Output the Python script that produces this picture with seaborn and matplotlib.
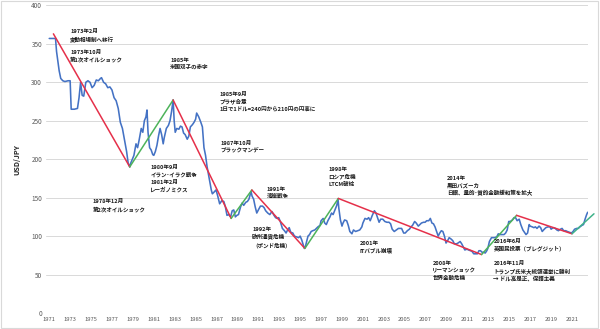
import matplotlib
matplotlib.use("Agg")
import matplotlib.pyplot as plt
import seaborn as sns
import pandas as pd
from matplotlib.patches import Rectangle

# ---------------- data ----------------
years = [1971.0, 1971.3, 1971.6, 1971.7, 1971.8, 1971.95, 1972.1, 1972.3, 1972.5, 1972.8,
         1973.0, 1973.1, 1973.4, 1973.7, 1973.85, 1974.0, 1974.15, 1974.3, 1974.5, 1974.7,
         1974.9, 1975.1, 1975.3, 1975.5, 1975.7, 1975.9, 1976.0, 1976.2, 1976.4, 1976.6,
         1976.8, 1977.0, 1977.2, 1977.4, 1977.6, 1977.8, 1978.0, 1978.2, 1978.4, 1978.55,
         1978.7, 1978.8, 1978.95, 1979.1, 1979.3, 1979.45, 1979.6, 1979.8, 1979.95, 1980.1,
         1980.25, 1980.35, 1980.45, 1980.6, 1980.75, 1980.9, 1981.0, 1981.15, 1981.3, 1981.45,
         1981.6, 1981.75, 1981.9, 1982.0, 1982.2, 1982.4, 1982.55, 1982.7, 1982.85, 1982.95,
         1983.05, 1983.2, 1983.4, 1983.55, 1983.7, 1983.85, 1984.0, 1984.2, 1984.35, 1984.5,
         1984.7, 1984.85, 1985.0, 1985.1, 1985.3, 1985.5, 1985.65, 1985.8, 1985.95, 1986.1,
         1986.3, 1986.5, 1986.6, 1986.75, 1986.95, 1987.1, 1987.3, 1987.5, 1987.7, 1987.85,
         1988.0, 1988.15, 1988.35, 1988.5, 1988.65, 1988.8, 1988.95, 1989.1, 1989.3, 1989.45,
         1989.6, 1989.8, 1989.95, 1990.1, 1990.3, 1990.4, 1990.55, 1990.7, 1990.85, 1991.0,
         1991.2, 1991.4, 1991.55, 1991.7, 1991.9, 1992.1, 1992.3, 1992.5, 1992.65, 1992.8,
         1992.95, 1993.1, 1993.3, 1993.5, 1993.65, 1993.8, 1993.95, 1994.1, 1994.3, 1994.45,
         1994.65, 1994.85, 1995.0, 1995.15, 1995.4, 1995.5, 1995.6, 1995.75, 1995.9, 1996.05,
         1996.2, 1996.4, 1996.55, 1996.7, 1996.9, 1997.0, 1997.2, 1997.35, 1997.5, 1997.65,
         1997.85, 1998.0, 1998.15, 1998.35, 1998.5, 1998.62, 1998.7, 1998.85, 1999.0, 1999.1,
         1999.25, 1999.45, 1999.6, 1999.75, 1999.95, 2000.1, 2000.3, 2000.5, 2000.7, 2000.9,
         2001.0, 2001.2, 2001.4, 2001.55, 2001.7, 2001.9, 2002.1, 2002.25, 2002.4, 2002.55,
         2002.7, 2002.9, 2003.1, 2003.3, 2003.5, 2003.65, 2003.8, 2004.0, 2004.2, 2004.4,
         2004.55, 2004.7, 2004.9, 2005.05, 2005.25, 2005.45, 2005.6, 2005.75, 2005.95, 2006.1,
         2006.3, 2006.45, 2006.6, 2006.8, 2006.95, 2007.1, 2007.3, 2007.45, 2007.6, 2007.75,
         2007.9, 2008.05, 2008.2, 2008.35, 2008.5, 2008.65, 2008.8, 2008.95, 2009.1, 2009.25,
         2009.45, 2009.6, 2009.75, 2009.95, 2010.1, 2010.3, 2010.45, 2010.6, 2010.75, 2010.95,
         2011.1, 2011.3, 2011.45, 2011.6, 2011.8, 2011.95, 2012.1, 2012.25, 2012.4, 2012.55,
         2012.7, 2012.85, 2012.95, 2013.1, 2013.3, 2013.45, 2013.6, 2013.8, 2013.95, 2014.1,
         2014.3, 2014.5, 2014.65, 2014.8, 2014.95, 2015.1, 2015.3, 2015.45, 2015.6, 2015.75,
         2015.95, 2016.1, 2016.3, 2016.45, 2016.6, 2016.75, 2016.9, 2017.0, 2017.2, 2017.35,
         2017.5, 2017.65, 2017.85, 2018.0, 2018.15, 2018.35, 2018.5, 2018.7, 2018.9, 2019.0,
         2019.2, 2019.4, 2019.55, 2019.7, 2019.9, 2020.05, 2020.2, 2020.4, 2020.55, 2020.75,
         2020.95, 2021.1, 2021.25, 2021.45, 2021.6, 2021.75, 2021.95, 2022.1, 2022.25, 2022.4,
         2022.5]

usdjpy = [357, 357, 357, 340, 330, 315, 305, 302, 301, 302,
          302, 265, 265, 266, 280, 300, 283, 282, 300, 302,
          300, 293, 296, 303, 302, 305, 306, 300, 298, 293,
          294, 290, 280, 276, 266, 248, 240, 225, 210, 195,
          190, 195, 200, 205, 220, 215, 225, 240, 235, 250,
          255, 264, 235, 215, 212, 206, 205, 210, 218, 230,
          240, 232, 220, 228, 240, 244, 250, 262, 277, 250,
          235, 240, 239, 243, 242, 234, 232, 226, 230, 242,
          245, 248, 252, 260, 255, 248, 242, 215, 205, 190,
          175, 160, 155, 157, 160, 153, 142, 146, 145, 138,
          127, 128, 125, 133, 134, 125, 127, 128, 138, 143,
          140, 144, 145, 148, 158, 152, 148, 138, 130, 134,
          139, 139, 137, 133, 130, 128, 132, 127, 124, 123,
          124, 119, 110, 107, 104, 108, 111, 105, 104, 100,
          99, 98, 100, 95, 84, 86, 92, 100, 102, 106,
          107, 108, 110, 112, 114, 120, 123, 117, 115, 120,
          125, 130, 128, 135, 140, 148, 136, 121, 113, 117,
          121, 120, 114, 106, 103, 108, 106, 107, 108, 112,
          117, 123, 122, 124, 120, 127, 133, 130, 124, 118,
          122, 122, 119, 118, 118, 116, 109, 106, 108, 110,
          110, 110, 104, 104, 107, 109, 112, 114, 119, 117,
          113, 115, 117, 118, 118, 120, 120, 123, 117, 116,
          112, 106, 100, 104, 107, 106, 100, 91, 94, 98,
          96, 94, 90, 90, 91, 93, 90, 86, 82, 83,
          82, 81, 80, 77, 77, 77, 81, 81, 79, 79,
          78, 81, 84, 93, 98, 98, 98, 99, 103, 102,
          102, 102, 104, 108, 119, 119, 121, 124, 124, 120,
          122, 115, 108, 105, 102, 104, 115, 113, 112, 111,
          112, 110, 113, 111, 106, 109, 111, 112, 112, 109,
          111, 110, 108, 107, 109, 110, 107, 107, 106, 105,
          104, 106, 109, 110, 110, 112, 114, 115, 122, 128,
          131]

trend_years = [1971.4, 1978.7, 1982.85, 1988.4, 1990.38, 1995.45, 1998.65, 2012.35, 2015.7, 2021.0, 2023.1]
trend_values = [363, 190, 277, 123, 160, 84, 149, 76, 127, 103, 129]
trend_colors = ["#E5304A", "#4DB35A", "#E5304A", "#4DB35A", "#E5304A",
                "#4DB35A", "#E5304A", "#4DB35A", "#E5304A", "#40B38A"]

x_ticks = list(range(1971, 2022, 2))
y_ticks = list(range(0, 401, 50))

annotations = [
    (1973.0, 369, "1973年2月\n変動相場制へ移行"),
    (1973.0, 342, "1973年10月\n第1次オイルショック"),
    (1982.57, 332, "1985年\n米国双子の赤字"),
    (1987.25, 288, "1985年9月\nプラザ合意\n1日で1ドル=240円から210円の円高に"),
    (1987.41, 224, "1987年10月\nブラックマンデー"),
    (1980.66, 192, "1980年9月\nイラン･イラク戦争\n1981年2月\nレーガノミクス"),
    (1975.18, 148, "1978年12月\n第2次オイルショック"),
    (1991.81, 164, "1991年\n湾岸戦争"),
    (1990.40, 111.5, "1992年\n欧州通貨危機\n（ポンド危機）"),
    (1997.70, 190, "1998年\nロシア危機\nLTCM破綻"),
    (2000.67, 94, "2001年\nITバブル崩壊"),
    (2009.02, 178.5, "2014年\n黒田バズーカ\n日銀、量的･質的金融緩和策を拡大"),
    (2007.64, 67, "2008年\nリーマンショック\n世界金融危機"),
    (2013.48, 96, "2016年6月\n英国民投票（ブレグジット）"),
    (2013.48, 68, "2016年11月\nトランプ氏米大統領選挙に勝利\n→ ドル高是正、保護主義"),
]

# ---------------- style ----------------
sns.set_theme(style="white")
plt.rcParams["font.family"] = ["Noto Sans CJK JP", "DejaVu Sans"]

fig = plt.figure(figsize=(6.0, 3.29), dpi=100)
ax = fig.add_axes([0.077, 0.0486, 0.903, 0.935])

df = pd.DataFrame({"year": years, "rate": usdjpy})
sns.lineplot(data=df, x="year", y="rate", ax=ax, color="#4472C4", linewidth=1.15,
             estimator=None, sort=False, zorder=3)

for i in range(len(trend_years) - 1):
    sns.lineplot(x=trend_years[i:i + 2], y=trend_values[i:i + 2], ax=ax,
                 color=trend_colors[i], linewidth=1.1, estimator=None, sort=False,
                 zorder=4, clip_on=False)

ax.set_xlim(1970.71, 2022.53)
ax.set_ylim(0, 400)
ax.set_xticks(x_ticks)
ax.set_xticklabels([str(t) for t in x_ticks], fontsize=4.2, color="#595959")
ax.set_yticks(y_ticks)
ax.set_yticklabels([str(t) for t in y_ticks], fontsize=4.6, color="#595959")
ax.tick_params(axis="both", length=0, pad=3)
ax.grid(axis="y", color="#D9D9D9", linewidth=0.7)
ax.grid(axis="x", visible=False)
for s in ax.spines.values():
    s.set_visible(False)
ax.set_xlabel("")
ax.set_ylabel("USD/JPY", fontsize=5.2, fontweight="bold", color="#262626", labelpad=8)

for x, y, t in annotations:
    ax.text(x, y, t, fontsize=4.0, fontweight="bold", color="#1a1a1a",
            ha="left", va="top", linespacing=1.45, zorder=5)

fig.patches.append(Rectangle((0.002, 0.003), 0.995, 0.994, transform=fig.transFigure,
                             fill=False, edgecolor="#D9D9D9", linewidth=0.8))

fig.savefig("out.png", dpi=100)
